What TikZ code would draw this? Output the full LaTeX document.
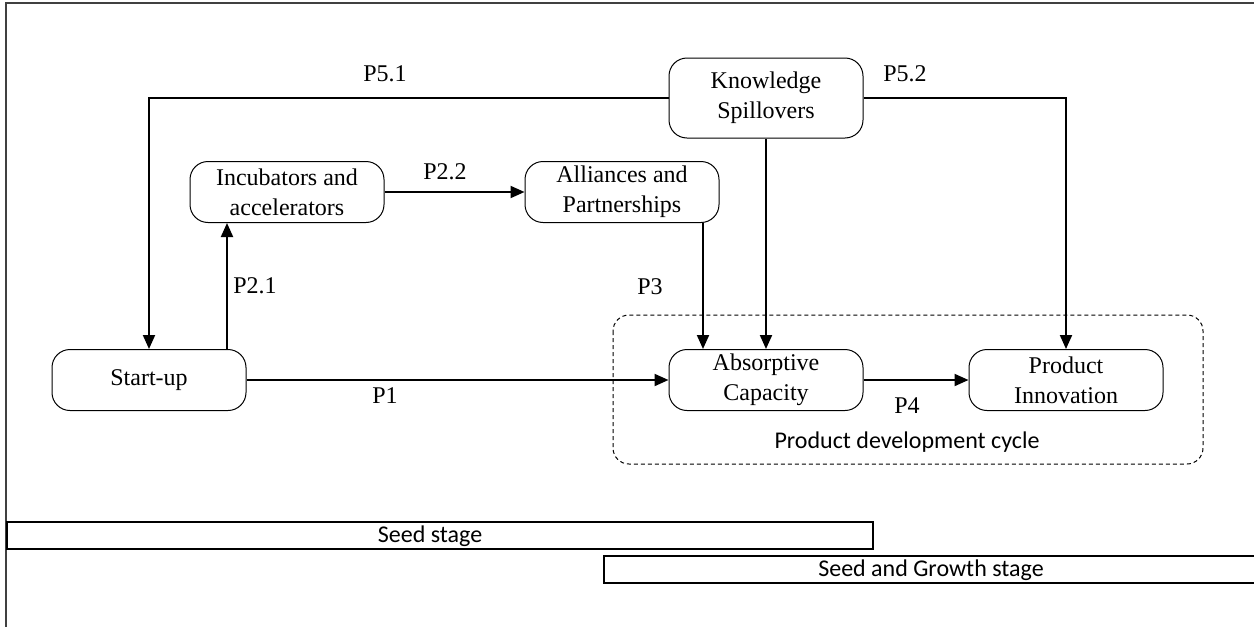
\documentclass[tikz,border=0pt]{standalone}
\usepackage{fontspec}
\setmainfont{Liberation Serif}
\newfontfamily\calibri{Carlito}
\usetikzlibrary{arrows.meta}

\begin{document}
\begin{tikzpicture}[x=0.5pt, y=-0.5pt,
    box/.style={draw, rounded corners=9pt, minimum width=97pt, minimum height=30.5pt,
      inner sep=0pt, align=center, line width=0.5pt, font=\fontsize{12}{15}\selectfont},
    arr/.style={-{Triangle[length=7pt,width=6pt]}, line width=1pt},
    lbl/.style={font=\fontsize{12}{14}\selectfont},
    stage/.style={font=\calibri\fontsize{12}{14}\selectfont}]
  \useasboundingbox (0,0) rectangle (1254,627);
  % frame
  \draw[black!75, line width=0.8pt] (1254,3) -- (6,3) -- (6,627);
  % product development cycle
  \draw[dash pattern=on 2pt off 1.5pt, rounded corners=8pt, line width=0.5pt] (613,315) rectangle (1203,464);
  \node[stage] (cycle) at (907,442) {Product development cycle};
  % boxes
  \node[box] (start) at (149,380) {Start-up};
  \node[box] (incub) at (287,192) {Incubators and\\accelerators};
  \node[box] (allian) at (622,192) {Alliances and\\Partnerships};
  \node[box, minimum height=40pt] (know) at (766,98) {Knowledge\\Spillovers};
  \node[box] (absorb) at (766,380) {Absorptive\\Capacity};
  \node[box] (prod) at (1066,380) {Product\\Innovation};
  \coordinate (p21) at (227,0);
  \coordinate (p3) at (703,0);
  % connectors
  \draw[arr] (know.west) -| (start.north);
  \draw[arr] (know.east) -| (prod.north);
  \draw[arr] (know.south) -- (absorb.north);
  \draw[arr] (start.north -| p21) -- (incub.south -| p21);
  \draw[arr] (incub.east) -- (allian.west);
  \draw[arr] (allian.south -| p3) -- (absorb.north -| p3);
  \draw[arr] (start.east) -- (absorb.west);
  \draw[arr] (absorb.east) -- (prod.west);
  % labels
  \node[lbl] (l51) at (385,74) {P5.1};
  \node[lbl] (l52) at (905,74) {P5.2};
  \node[lbl] (l22) at (445,172) {P2.2};
  \node[lbl] (l21) at (255,286) {P2.1};
  \node[lbl] (l3) at (650,287) {P3};
  \node[lbl] (l1) at (385,396) {P1};
  \node[lbl] (l4) at (907,406) {P4};
  % stages
  \draw[line width=0.6pt] (7,522) rectangle (873,549);
  \node[stage] (seed) at (430,536) {Seed stage};
  \draw[line width=0.6pt] (1254,556) -- (604,556) -- (604,583) -- (1254,583);
  \node[stage] (growth) at (931,570) {Seed and Growth stage};
\end{tikzpicture}
\end{document}
